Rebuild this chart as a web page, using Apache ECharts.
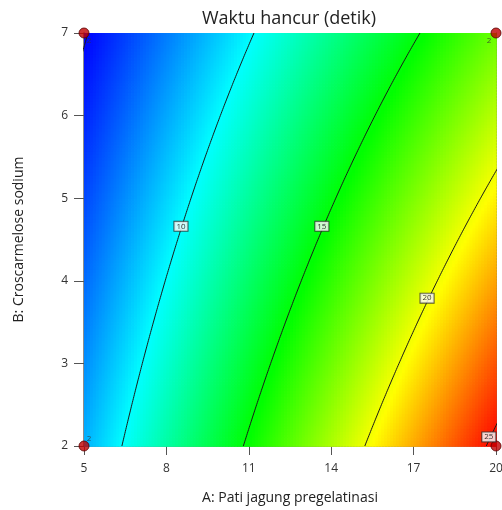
<!DOCTYPE html>
<html>
<head>
<meta charset="utf-8">
<script src="https://cdn.jsdelivr.net/npm/echarts@6/dist/echarts.min.js"></script>
<style>html,body{margin:0;padding:0;background:#fff}#main{width:502px;height:510px}</style>
</head>
<body>
<div id="main"></div>
<script>
// ---- data ----
const titleText = 'Waktu hancur (detik)';
const xName = 'A: Pati jagung pregelatinasi';
const yName = 'B: Croscarmelose sodium';
const xTicks = [5, 8, 11, 14, 17, 20];
const yTicks = [2, 3, 4, 5, 6, 7];
// design points (factorial corners) and replicate counts
const designA = [5, 5, 20, 20];
const designB = [2, 7, 2, 7];
const designReps = [2, 2, 2, 2];
// fitted response at the design corners (estimated from the contour positions)
const cornerResponse = [8.44, 4.88, 25.4, 17.29]; // (5,2) (5,7) (20,2) (20,7)
// contour levels and label positions
const contourLevels = [5, 10, 15, 20, 25];
const labelLevels = [10, 15, 20, 25];
const labelA = [8.53, 13.66, 17.49, 19.74];
const labelB = [4.66, 4.66, 3.79, 2.11];

// ---- surface (two-factor interaction model over the design corners) ----
const aMin = xTicks[0], aMax = xTicks[xTicks.length - 1];
const bMin = yTicks[0], bMax = yTicks[yTicks.length - 1];
const y00 = cornerResponse[0], y01 = cornerResponse[1], y10 = cornerResponse[2], y11 = cornerResponse[3];
function model(A, B) {
  const u = (A - aMin) / (aMax - aMin), v = (B - bMin) / (bMax - bMin);
  return y00 * (1 - u) * (1 - v) + y10 * u * (1 - v) + y01 * (1 - u) * v + y11 * u * v;
}
const N = 140;
const cells = [];
for (let i = 0; i < N; i++) {
  for (let j = 0; j < N; j++) {
    const a0 = aMin + (aMax - aMin) * i / N, a1 = aMin + (aMax - aMin) * (i + 1) / N;
    const b0 = bMin + (bMax - bMin) * j / N, b1 = bMin + (bMax - bMin) * (j + 1) / N;
    cells.push([a0, b0, a1, b1, model((a0 + a1) / 2, (b0 + b1) / 2)]);
  }
}
function contourLine(L) {
  const pts = [];
  const M = 200;
  for (let k = 0; k <= M; k++) {
    const v = k / M;
    const denom = (y10 - y00) + (y11 - y10 - y01 + y00) * v;
    const u = (L - y00 - (y01 - y00) * v) / denom;
    if (u >= -0.3 && u <= 1.3) pts.push([aMin + u * (aMax - aMin), bMin + v * (bMax - bMin)]);
  }
  return pts;
}
const vMin = Math.min.apply(null, cornerResponse), vMax = Math.max.apply(null, cornerResponse);

const font = '"Segoe UI", "Open Sans", "Noto Sans", sans-serif';
const chart = echarts.init(document.getElementById('main'), null, { renderer: 'canvas' });

const series = [];
series.push({
  type: 'custom',
  coordinateSystem: 'cartesian2d',
  xAxisIndex: 0, yAxisIndex: 0,
  dimensions: ['a0', 'b0', 'a1', 'b1', 'val'],
  encode: { x: [0, 2], y: [1, 3] },
  data: cells,
  progressive: 0,
  silent: true,
  z: 1,
  renderItem: function (params, api) {
    const p0 = api.coord([api.value(0), api.value(3)]);
    const p1 = api.coord([api.value(2), api.value(1)]);
    return {
      type: 'rect',
      shape: { x: p0[0], y: p0[1], width: p1[0] - p0[0] + 0.8, height: p1[1] - p0[1] + 0.8 },
      style: { fill: api.visual('color') }
    };
  }
});
contourLevels.forEach(function (L) {
  series.push({
    type: 'line',
    data: contourLine(L),
    showSymbol: false,
    symbol: 'none',
    smooth: false,
    clip: true,
    silent: true,
    z: 3,
    lineStyle: { color: '#1a1a1a', width: 1 }
  });
});
series.push({
  type: 'scatter',
  data: labelLevels.map(function (L, i) { return [labelA[i], labelB[i], L]; }),
  symbolSize: 0,
  z: 5,
  clip: false,
  label: {
    show: true,
    position: 'inside',
    formatter: function (p) { return String(p.value[2]); },
    backgroundColor: '#fff',
    borderColor: '#333',
    borderWidth: 1,
    padding: [1, 2, 0, 2],
    fontSize: 8,
    fontFamily: font,
    color: '#000'
  }
});
const repOffsets = [[5, -7], [5, 8], [-7, -7], [-7, 8]];
series.push({
  type: 'scatter',
  data: designA.map(function (a, i) {
    return { value: [a, designB[i], designReps[i]], label: { offset: repOffsets[i] } };
  }),
  symbolSize: 10,
  clip: false,
  z: 4,
  itemStyle: { color: '#c00000', borderColor: '#5a0000', borderWidth: 1 },
  label: {
    show: true,
    position: 'inside',
    formatter: function (p) { return String(p.value[2]); },
    fontSize: 8,
    fontFamily: font,
    color: '#333'
  }
});

const option = {
  animation: false,
  backgroundColor: '#fff',
  graphic: [{
    type: 'text', left: null, x: 289, y: 19,
    style: { text: titleText, fontSize: 18, fill: '#222', fontFamily: font, align: 'center', verticalAlign: 'middle' }
  }],
  grid: { left: 84, top: 33, width: 412, height: 413, containLabel: false, outerBoundsMode: 'none' },
  visualMap: {
    show: false,
    type: 'continuous',
    seriesIndex: 0,
    dimension: 4,
    min: vMin, max: vMax,
    inRange: { color: ['#0000ff', '#00ffff', '#00ff00', '#ffff00', '#ff0000'] }
  },
  xAxis: [{
    type: 'value', min: aMin, max: aMax,
    name: xName, nameLocation: 'middle', nameGap: 45,
    nameTextStyle: { fontSize: 14, color: '#222', fontFamily: font },
    axisLine: { show: true, onZero: false, lineStyle: { color: '#666', width: 1.5 } },
    axisTick: { show: true, length: 9, inside: false, customValues: xTicks, lineStyle: { color: '#555' } },
    axisLabel: { customValues: xTicks, margin: 17, fontSize: 12, color: '#333', fontFamily: font },
    splitLine: { show: false }
  }, {
    type: 'value', min: aMin, max: aMax, position: 'top',
    axisLine: { show: true, onZero: false, lineStyle: { color: '#666', width: 1 } },
    axisTick: { show: false }, axisLabel: { show: false }, splitLine: { show: false }
  }],
  yAxis: [{
    type: 'value', min: bMin, max: bMax, interval: 1,
    name: yName, nameLocation: 'middle', nameGap: 58,
    nameTextStyle: { fontSize: 14, color: '#222', fontFamily: font },
    axisLine: { show: true, onZero: false, lineStyle: { color: '#666', width: 1.5 } },
    axisTick: { show: true, length: 10, lineStyle: { color: '#555' } },
    axisLabel: { margin: 16, fontSize: 12, color: '#333', fontFamily: font },
    splitLine: { show: false }
  }, {
    type: 'value', min: bMin, max: bMax, position: 'right',
    axisLine: { show: true, onZero: false, lineStyle: { color: '#666', width: 1 } },
    axisTick: { show: false }, axisLabel: { show: false }, splitLine: { show: false }
  }],
  series: series
};
chart.setOption(option);
</script>
</body>
</html>
